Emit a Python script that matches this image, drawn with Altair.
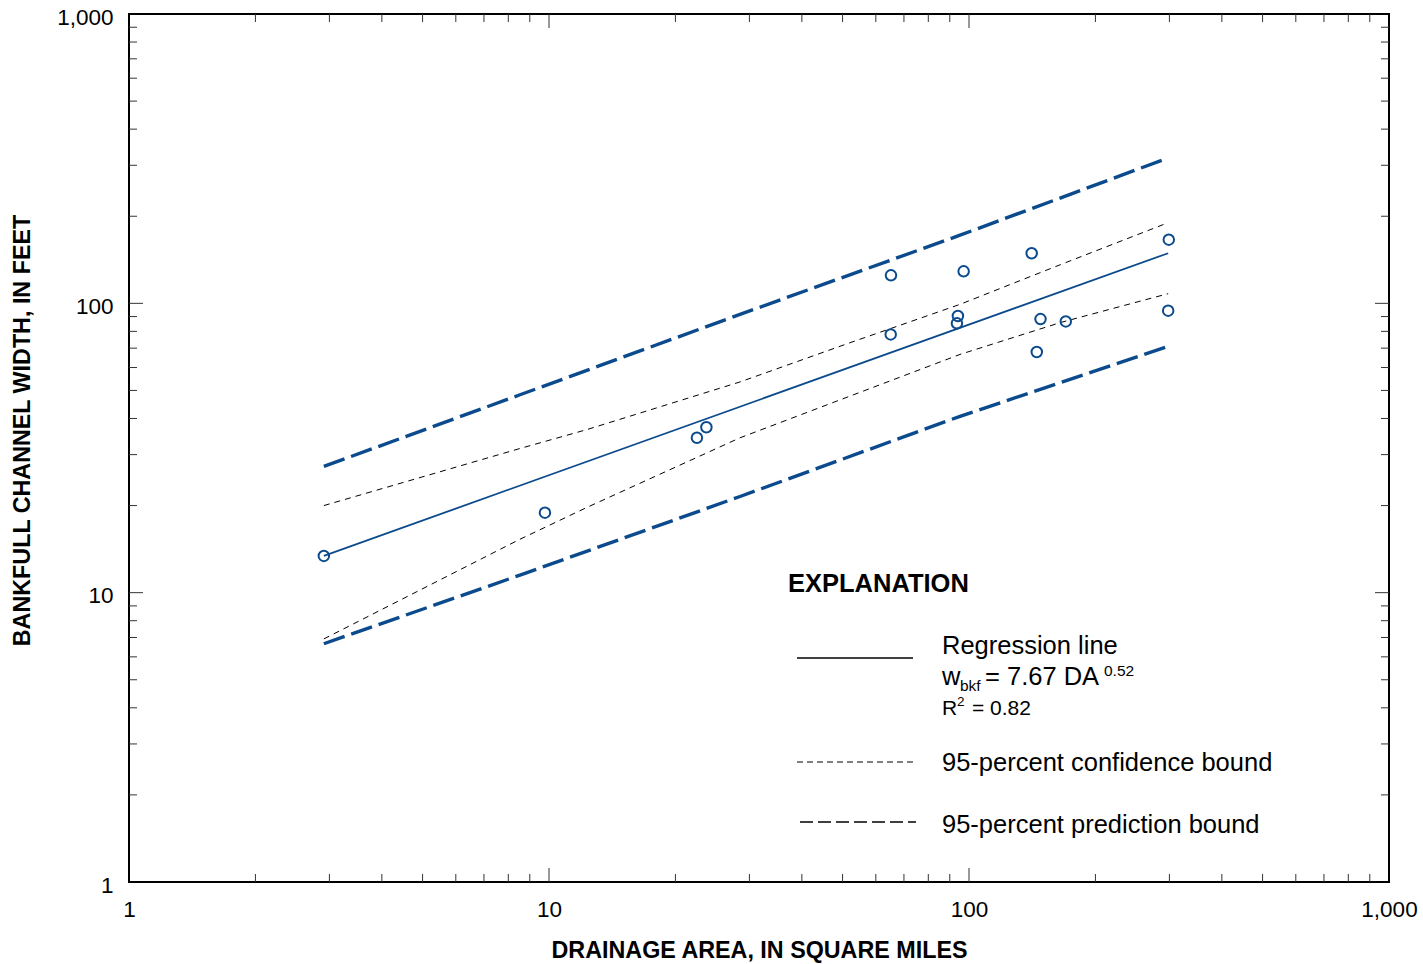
import altair as alt
import pandas as pd

# Measured sites: drainage area (sq mi) and bankfull channel width (ft)
site_area = [2.91, 9.78, 22.5, 23.7, 65.2, 65.1, 97.1, 94.1, 93.6, 141, 148, 145, 170, 299, 298]
site_width = [13.4, 18.9, 34.3, 37.3, 125, 78.1, 129, 90.4, 85.3, 149, 88.2, 67.9, 86.6, 166, 94.3]

# Regression line  w_bkf = 7.67 DA^0.52
reg_area = [2.91, 298]
reg_width = [13.4, 149]

# 95-percent confidence bounds
conf_area = [2.91, 8.53, 12.3, 28.5, 52.1, 95.2, 165, 298]
conf_upper = [20.0, 31.5, 36.6, 53.5, 73.1, 99.2, 136, 190]
conf_lower = [6.92, 15.3, 19.7, 34.3, 47.8, 66.6, 85.8, 108]

# 95-percent prediction bounds
pred_up_area = [2.91, 8.53, 28.5, 95.2, 298]
pred_upper = [27.3, 48.3, 91.6, 172, 318]
pred_lo_area = [2.91, 8.53, 28.5, 95.2, 298]
pred_lower = [6.66, 11.5, 21.5, 40.7, 71.0]

axis_values = [1, 10, 100, 1000]

W, H = 1260, 868
FONT = "Liberation Sans"
BLUE = "#0b4a8c"

xs = alt.Scale(type="log", domain=[1, 1000], nice=False)
ys = alt.Scale(type="log", domain=[1, 1000], nice=False)

points = pd.DataFrame({"area": site_area, "width": site_width})
reg = pd.DataFrame({"area": reg_area, "width": reg_width})
conf = pd.concat([
    pd.DataFrame({"area": conf_area, "width": conf_upper, "side": "upper"}),
    pd.DataFrame({"area": conf_area, "width": conf_lower, "side": "lower"}),
])
pred = pd.concat([
    pd.DataFrame({"area": pred_up_area, "width": pred_upper, "side": "upper"}),
    pd.DataFrame({"area": pred_lo_area, "width": pred_lower, "side": "lower"}),
])

x_axis = alt.Axis(
    values=axis_values, format=",d", tickSize=0, domain=False, grid=False,
    labelFont=FONT, labelFontSize=22.5, labelColor="black", labelPadding=16,
    labelFlush=False, labelOverlap=False,
    title="DRAINAGE AREA, IN SQUARE MILES", titleFont=FONT, titleFontSize=23.3,
    titleFontWeight="bold", titleColor="black", titleX=630, titleY=68,
    titleAlign="center", titleBaseline="middle",
)
y_axis = alt.Axis(
    values=axis_values, format=",d", tickSize=0, domain=False, grid=False,
    labelFont=FONT, labelFontSize=22.5, labelColor="black", labelPadding=16,
    labelOffset=3, labelFlush=False, labelOverlap=False,
    title="BANKFULL CHANNEL WIDTH, IN FEET", titleFont=FONT, titleFontSize=23.3,
    titleFontWeight="bold", titleColor="black", titleAngle=270,
    titleX=-107, titleY=416, titleAlign="center", titleBaseline="middle",
)

# Every layer carries the same axis definition so the shared axes merge cleanly
def X(field="area"):
    return alt.X(f"{field}:Q", scale=xs, axis=x_axis)

def Y(field="width"):
    return alt.Y(f"{field}:Q", scale=ys, axis=y_axis)

layers = []

# Prediction bounds
layers.append(
    alt.Chart(pred).mark_line(color=BLUE, strokeWidth=3.4, strokeDash=[22, 7])
    .encode(x=X(), y=Y(), detail="side:N")
)
# Confidence bounds
layers.append(
    alt.Chart(conf).mark_line(color="black", strokeWidth=1, strokeDash=[6, 5])
    .encode(x=X(), y=Y(), detail="side:N")
)
# Regression line
layers.append(
    alt.Chart(reg).mark_line(color=BLUE, strokeWidth=1.8)
    .encode(x=X(), y=Y())
)
# Sites
layers.append(
    alt.Chart(points).mark_point(shape="circle", filled=False, color=BLUE,
                                 strokeWidth=2, size=110, opacity=1)
    .encode(x=X(), y=Y())
)

# Inward tick marks on all four sides of the frame
tick_major = [10, 100]
tick_minor = [d * m for d in (1, 10, 100) for m in range(2, 10)]
for vals, length in ((tick_minor, 8), (tick_major, 14)):
    tdf = pd.DataFrame({"v": vals})
    base = alt.Chart(tdf).mark_rule(color="#333333", strokeWidth=1)
    layers.append(base.encode(x=X("v"), y=alt.value(H), y2=alt.value(H - length)))
    layers.append(base.encode(x=X("v"), y=alt.value(0), y2=alt.value(length)))
    layers.append(base.encode(y=Y("v"), x=alt.value(0), x2=alt.value(length)))
    layers.append(base.encode(y=Y("v"), x=alt.value(W), x2=alt.value(W - length)))

# Explanation block
one = alt.Data(values=[{}])

def label(text, x, y, size=25.5, weight="normal"):
    return alt.Chart(one).mark_text(
        text=text, align="left", baseline="alphabetic", font=FONT,
        fontSize=size, fontWeight=weight, color="black",
    ).encode(x=alt.value(x), y=alt.value(y))

def sample(x0, x1, y, width, dash=None):
    kw = {"color": "black", "strokeWidth": width}
    if dash:
        kw["strokeDash"] = dash
    return alt.Chart(one).mark_rule(**kw).encode(
        x=alt.value(x0), x2=alt.value(x1), y=alt.value(y))

layers += [
    label("EXPLANATION", 659, 578, 25.5, "bold"),
    sample(668, 784, 644, 1.3),
    label("Regression line", 813, 640),
    label("w", 813, 671),
    label("bkf", 831, 677, 15.5),
    label("= 7.67 DA", 856, 671),
    label("0.52", 975, 662, 15.5),
    label("R", 813, 701, 21),
    label("2", 828, 692, 13.5),
    label("= 0.82", 843, 701, 21),
    sample(668, 786, 748, 1.1, [6, 4]),
    label("95-percent confidence bound", 813, 757),
    sample(671, 787, 808, 1.6, [13, 5]),
    label("95-percent prediction bound", 813, 819),
]

chart = alt.layer(*layers).properties(
    width=W, height=H,
    autosize=alt.AutoSizeParams(type="none"),
    padding={"left": 129, "top": 14, "right": 34, "bottom": 82},
).configure_view(stroke="black", strokeWidth=2)

chart.save("out.html", embed_options={"renderer": "svg", "actions": False})
